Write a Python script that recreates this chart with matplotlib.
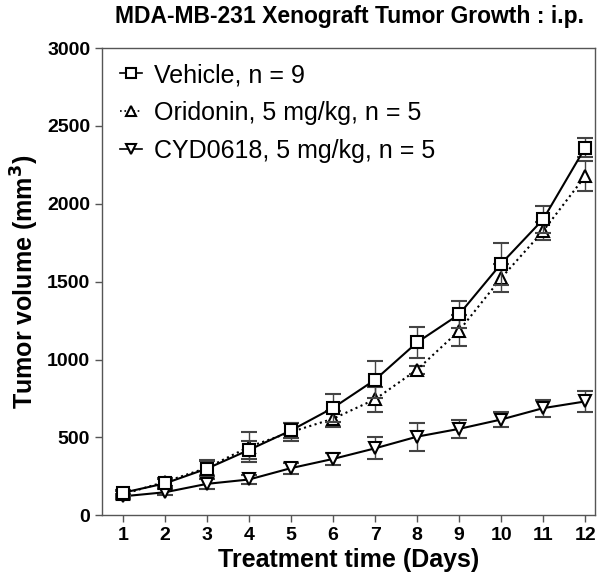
import matplotlib
matplotlib.use("Agg")
import matplotlib.pyplot as plt
from matplotlib.lines import Line2D

plt.rcParams["font.family"] = ["Liberation Sans", "DejaVu Sans"]

days = [1, 2, 3, 4, 5, 6, 7, 8, 9, 10, 11, 12]

vehicle = [145, 205, 300, 420, 545, 690, 870, 1110, 1290, 1615, 1900, 2360]
vehicle_err = [20, 25, 50, 60, 50, 90, 120, 100, 85, 135, 85, 60]

oridonin = [135, 215, 305, 440, 535, 620, 745, 935, 1185, 1523, 1825, 2177]
oridonin_err = [20, 25, 50, 95, 55, 50, 80, 25, 100, 90, 60, 95]

cyd0618 = [122, 148, 202, 230, 303, 362, 430, 505, 555, 615, 688, 731]
cyd0618_err = [15, 20, 30, 32, 35, 40, 70, 90, 60, 50, 55, 65]

labels = ["Vehicle, n = 9", "Oridonin, 5 mg/kg, n = 5", "CYD0618, 5 mg/kg, n = 5"]
markers = ["s", "^", "v"]
styles = ["-", ":", "-"]

fig = plt.figure(figsize=(6, 5.79), dpi=100)
ax = fig.add_axes([0.17, 0.11, 0.822, 0.807])

common = dict(color="black", mfc="white", mec="black", mew=1.5, lw=1.5,
              capsize=6, elinewidth=1.0, capthick=1.0, ecolor="#444444")
series = [(vehicle, vehicle_err, 3), (oridonin, oridonin_err, 2), (cyd0618, cyd0618_err, 2)]
for (vals, err, z), m, ls in zip(series, markers, styles):
    ax.errorbar(days, vals, yerr=err, marker=m, ms=9, ls=ls, zorder=z, **common)

ax.set_xlim(0.5, 12.24)
ax.set_ylim(0, 3000)
ax.set_xticks(days)
ax.set_yticks([0, 500, 1000, 1500, 2000, 2500, 3000])
for s in ax.spines.values():
    s.set_color("#555555")
    s.set_linewidth(1.0)
ax.tick_params(direction="out", length=5, width=1, colors="#555555",
               labelcolor="black", labelsize=14)
for t in ax.get_xticklabels() + ax.get_yticklabels():
    t.set_fontweight("bold")

ax.set_xlabel("Treatment time (Days)", fontsize=18, fontweight="bold", labelpad=3)
ax.set_ylabel("Tumor volume (mm$^\\mathbf{3}$)", fontsize=18, fontweight="bold", labelpad=4)

fig.text(0.583, 0.971, "MDA-MB-231 Xenograft Tumor Growth : i.p.",
         ha="center", va="center", fontsize=16.5, fontweight="bold")

handles = [Line2D([], [], color="black", lw=1.2, ls=ls, marker=m, ms=7,
                  mfc="white", mec="black", mew=1.5)
           for m, ls in zip(markers, styles)]
ax.legend(handles, labels, loc="upper left", frameon=False, fontsize=18,
          handlelength=0.9, handletextpad=0.5, labelspacing=0.55,
          borderaxespad=0.3, bbox_to_anchor=(0.0, 1.005))

fig.savefig("out.png", dpi=100)
